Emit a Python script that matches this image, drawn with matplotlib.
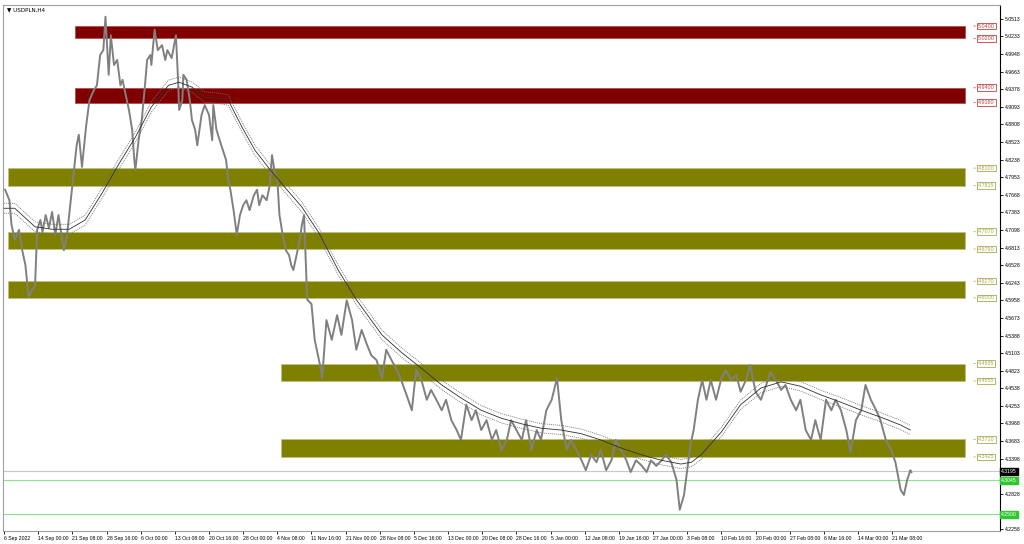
import matplotlib
matplotlib.use("Agg")
import matplotlib.pyplot as plt
from matplotlib.patches import Rectangle

SYMBOL = "USDPLN,H4"

# x axis: one label every 32 H4 bars, bar 0 = first visible bar
X_LABELS = ["6 Sep 2022", "14 Sep 00:00", "21 Sep 08:00", "28 Sep 16:00", "6 Oct 00:00",
            "13 Oct 08:00", "20 Oct 16:00", "28 Oct 00:00", "4 Nov 08:00", "11 Nov 16:00",
            "21 Nov 00:00", "28 Nov 08:00", "5 Dec 16:00", "13 Dec 00:00", "20 Dec 08:00",
            "28 Dec 16:00", "5 Jan 00:00", "12 Jan 08:00", "19 Jan 16:00", "27 Jan 00:00",
            "3 Feb 08:00", "10 Feb 16:00", "20 Feb 00:00", "27 Feb 08:00", "6 Mar 16:00",
            "14 Mar 00:00", "21 Mar 08:00"]
BARS_PER_LABEL = 32

# 4.2543 sits under the 4.2500 level box in the reference, so it is left out
Y_TICKS = [5.0513, 5.0233, 4.9948, 4.9663, 4.9378, 4.9093, 4.8808, 4.8523, 4.8238, 4.7953,
           4.7668, 4.7383, 4.7098, 4.6813, 4.6528, 4.6243, 4.5958, 4.5673, 4.5388, 4.5103,
           4.4823, 4.4538, 4.4253, 4.3968, 4.3683, 4.3398, 4.2828, 4.2258]

# supply (red) and demand (olive) zones
ZONE_TOP = [5.0400, 4.9400, 4.8100, 4.7070, 4.6270, 4.4935, 4.3710]
ZONE_BOTTOM = [5.0200, 4.9160, 4.7815, 4.6790, 4.6000, 4.4655, 4.3425]
ZONE_START = [66, 66, 4, 4, 4, 259, 259]
ZONE_END = 900
ZONE_RED = [True, True, False, False, False, False, False]

# close prices (bar index, price)
PRICE_BAR = [1, 5, 7, 10, 14, 17, 20, 23, 26, 29, 31, 34, 36, 39, 42, 45, 48, 51, 53, 56,
             59, 62, 65, 68, 70, 73, 77, 80, 84, 87, 90, 93, 95, 98, 100, 103, 106, 109, 111,
             114, 117, 120, 122, 123, 126, 129, 132, 134, 137, 138, 141, 144, 148, 151, 153,
             157, 161, 163, 164, 167, 168, 171, 174, 176, 179, 181, 185, 188, 192, 195, 196,
             199, 202, 205, 208, 210, 212, 215, 218, 221, 224, 227, 230, 234, 237, 239, 242,
             246, 249, 251, 254, 256, 258, 261, 264, 267, 269, 271, 274, 277, 279, 281, 283,
             284, 288, 291, 296, 298, 302, 307,
             312, 316, 321, 326, 330, 335, 340, 344, 349, 354, 358, 363, 368, 372, 377, 382,
             386, 391, 396, 400, 405, 410, 414, 419, 424, 428, 433, 438, 442, 447, 452, 457,
             461, 466, 471, 475, 480, 485, 489, 494, 499, 503, 508, 513, 518, 522, 527, 531,
             536, 541, 545, 550, 555, 559, 564, 569, 573, 578, 583, 587, 592, 597, 602, 606,
             611, 616, 620, 625, 630, 633, 637, 640, 643, 646, 650, 654, 658, 662, 667, 672,
             676, 681, 686, 690, 695, 699, 704, 709, 714, 718, 723, 728, 732, 737, 742, 746,
             751, 756, 760, 765, 770, 775, 779, 784, 789, 793, 798, 803, 807, 812, 817, 821,
             826, 831, 835, 840, 843, 846, 849, 850]
PRICE = [4.775, 4.758, 4.718, 4.694, 4.710, 4.677, 4.653, 4.601, 4.613, 4.618, 4.710, 4.726,
         4.707, 4.734, 4.713, 4.739, 4.702, 4.734, 4.710, 4.677, 4.702, 4.750, 4.799, 4.847,
         4.864, 4.812, 4.880, 4.920, 4.936, 4.944, 4.993, 5.001, 5.055, 4.961, 5.025, 4.977,
         4.985, 4.944, 4.953, 4.928, 4.904, 4.872, 4.823, 4.807, 4.855, 4.888, 4.944, 4.985,
         4.993, 4.977, 5.034, 5.001, 5.009, 4.985, 5.001, 4.988, 5.025, 4.953, 4.904, 4.920,
         4.961, 4.953, 4.920, 4.888, 4.872, 4.847, 4.896, 4.912, 4.896, 4.855, 4.912, 4.872,
         4.855, 4.839, 4.823, 4.791, 4.775, 4.742, 4.702, 4.734, 4.750, 4.758, 4.742, 4.766,
         4.775, 4.750, 4.766, 4.758, 4.783, 4.831, 4.799, 4.791, 4.734, 4.702, 4.677, 4.669,
         4.653, 4.645, 4.669, 4.694, 4.718, 4.734, 4.645, 4.597, 4.590, 4.532, 4.491, 4.470,
         4.564, 4.532, 4.572, 4.540, 4.596,
         4.564, 4.516, 4.548, 4.524, 4.507, 4.499, 4.470, 4.516, 4.499, 4.483, 4.467, 4.443,
         4.418, 4.483, 4.467, 4.435, 4.451, 4.435, 4.418, 4.435, 4.402, 4.386, 4.370, 4.427,
         4.402, 4.418, 4.386, 4.402, 4.370, 4.386, 4.354, 4.370, 4.402, 4.386, 4.370, 4.402,
         4.354, 4.386, 4.370, 4.418, 4.435, 4.470, 4.402, 4.354, 4.370, 4.354, 4.337, 4.321,
         4.346, 4.334, 4.354, 4.321, 4.337, 4.370, 4.354, 4.337, 4.318, 4.337, 4.329, 4.318,
         4.337, 4.328, 4.337, 4.346, 4.334, 4.305, 4.257, 4.281, 4.321, 4.362, 4.386, 4.435,
         4.467, 4.435, 4.467, 4.435, 4.470, 4.483, 4.467, 4.475, 4.448, 4.467, 4.491, 4.448,
         4.435, 4.459, 4.480, 4.467, 4.451, 4.459, 4.435, 4.418, 4.435, 4.386, 4.370, 4.402,
         4.370, 4.435, 4.418, 4.435, 4.418, 4.386, 4.350, 4.402, 4.418, 4.459, 4.435, 4.418,
         4.402, 4.370, 4.354, 4.334, 4.289, 4.281, 4.305, 4.321, 4.318]

# moving average (bar index, value) with envelope
MA_BAR = [0, 10, 29, 45, 61, 76, 92, 108, 123, 138, 154, 164, 176, 188, 201, 210, 223, 235,
          248, 263, 279, 295, 313, 330, 354, 372, 391, 410, 428, 447, 466, 485, 503, 522, 541,
          559, 578, 597, 616, 634, 644, 653, 672, 690, 709, 728, 746, 765, 784, 803, 821, 840,
          849]
MA = [4.745, 4.745, 4.715, 4.711, 4.711, 4.726, 4.770, 4.818, 4.860, 4.909, 4.944, 4.949,
      4.941, 4.925, 4.923, 4.920, 4.876, 4.839, 4.810, 4.779, 4.747, 4.705, 4.645, 4.597,
      4.540, 4.512, 4.486, 4.459, 4.438, 4.418, 4.405, 4.396, 4.389, 4.386, 4.380, 4.370,
      4.357, 4.346, 4.337, 4.331, 4.334, 4.346, 4.383, 4.427, 4.454, 4.464, 4.457, 4.443,
      4.431, 4.418, 4.407, 4.394, 4.386]
ENV_PCT = 0.17

BID = 4.3195
GREEN_LEVELS = [4.3045, 4.2500]

FS = 3.7
FONT = "Liberation Sans"

fig = plt.figure(figsize=(10.24, 5.44), dpi=100)
ax = fig.add_axes([3 / 1024, 13 / 544, 997 / 1024, 526 / 544])
ax.set_xlim(-1, 933)
ax.set_ylim(4.2226, 5.074)

red, olive = "#800000", "#808000"
for top, bot, start, is_red in zip(ZONE_TOP, ZONE_BOTTOM, ZONE_START, ZONE_RED):
    c = red if is_red else olive
    ax.add_patch(Rectangle((start, bot), ZONE_END - start, top - bot, facecolor=c,
                           edgecolor="#b05050" if is_red else "#c0c080", lw=0.6, zorder=1))
    lab_c = "#c04040" if is_red else "#a8a850"
    for v in (top, bot):
        ax.annotate("", xy=(0.971, v), xytext=(0.978, v), xycoords=("axes fraction", "data"),
                    arrowprops=dict(arrowstyle="-", color=lab_c, lw=0.6))
        ax.text(0.978, v, f"{v:.4f}", transform=ax.get_yaxis_transform(), fontsize=FS + 0.2,
                family=FONT, color=lab_c, va="center", ha="left",
                bbox=dict(boxstyle="square,pad=0.15", fc="white", ec=lab_c, lw=0.6), zorder=4)

ax.axhline(BID, color="#c8c8c8", lw=0.8, zorder=1)
for g in GREEN_LEVELS:
    ax.axhline(g, color="#90e090", lw=0.8, zorder=1)

env_up = [m * (1 + ENV_PCT / 100) for m in MA]
env_dn = [m * (1 - ENV_PCT / 100) for m in MA]
ax.plot(PRICE_BAR, PRICE, color="#808080", lw=1.4, zorder=2)
ax.plot(MA_BAR, MA, color="#303030", lw=0.6, zorder=3)
ax.plot(MA_BAR, env_up, color="#707070", lw=0.6, ls=(0, (1.2, 1.2)), zorder=3)
ax.plot(MA_BAR, env_dn, color="#707070", lw=0.6, ls=(0, (1.2, 1.2)), zorder=3)

# axes styling
for s in ax.spines.values():
    s.set_color("#a0a0a0")
    s.set_linewidth(0.8)
ax.spines["right"].set_color("black")
ax.yaxis.tick_right()
ax.set_yticks(Y_TICKS)
ax.set_yticklabels([f"{v:.4f}" for v in Y_TICKS])
ax.set_xticks([i * BARS_PER_LABEL for i in range(len(X_LABELS))])
ax.set_xticklabels(X_LABELS)
ax.tick_params(axis="y", length=2, width=0.6, pad=1.5, labelsize=FS)
ax.tick_params(axis="x", length=2, width=0.6, pad=1.5, labelsize=FS)
for t in ax.get_xticklabels():
    t.set_ha("left")
    t.set_family(FONT)
for t in ax.get_yticklabels():
    t.set_family(FONT)

ax.text(1.001, BID, f"{BID:.4f}", transform=ax.get_yaxis_transform(), fontsize=FS,
        family=FONT, color="white", va="center", ha="left", zorder=5,
        bbox=dict(boxstyle="square,pad=0.2", fc="black", ec="black"), clip_on=False)
for g in GREEN_LEVELS:
    ax.text(1.001, g, f"{g:.4f}", transform=ax.get_yaxis_transform(), fontsize=FS,
            family=FONT, color="white", va="center", ha="left", zorder=5,
            bbox=dict(boxstyle="square,pad=0.2", fc="#2ec82e", ec="#2ec82e"), clip_on=False)

ax.text(0.004, 0.995, "\u25BC " + SYMBOL, transform=ax.transAxes, fontsize=FS + 0.4,
        family="DejaVu Sans", va="top", ha="left")

fig.savefig("out.png", dpi=100)
